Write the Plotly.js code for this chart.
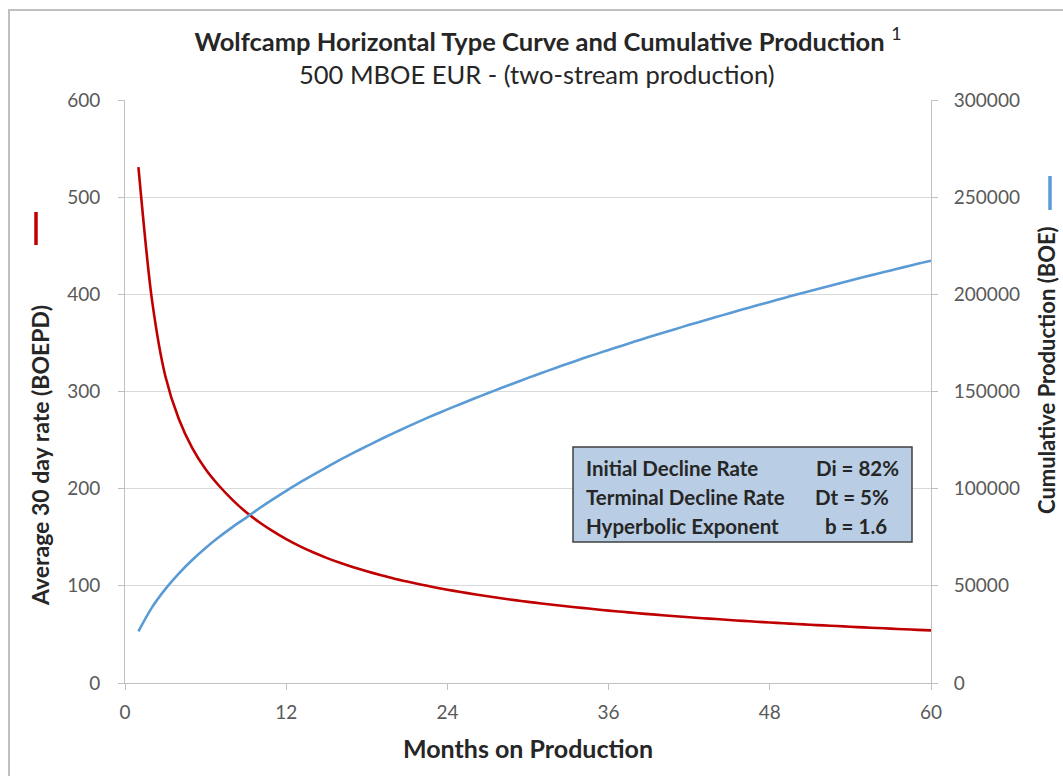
<!DOCTYPE html>
<html>
<head>
<meta charset="utf-8">
<script src="https://cdn.plot.ly/plotly-3.0.1.min.js"></script>
<style>html,body{margin:0;padding:0;background:#fff;}#chart{width:1063px;height:776px;}</style>
</head>
<body>
<div id="chart"></div>
<script>
// Months on production
const months = [1,2,3,4,5,6,7,8,9,10,11,12,13,14,15,16,17,18,19,20,21,22,23,24,25,26,27,28,29,30,
  31,32,33,34,35,36,37,38,39,40,41,42,43,44,45,46,47,48,49,50,51,52,53,54,55,56,57,58,59,60];
// Average 30 day rate (BOEPD)
const rateBOEPD = [531,395,316,272,242,220,203,188.5,176,165.5,156.3,148.1,140.9,134.5,128.8,123.7,119.1,115.0,111.2,107.6,
  104.4,101.4,98.6,96.0,93.6,91.4,89.2,87.2,85.3,83.5,81.9,80.2,78.7,77.3,75.9,74.5,73.3,72.0,70.9,69.8,
  68.7,67.7,66.7,65.8,64.8,63.9,63.1,62.3,61.5,60.7,59.9,59.3,58.6,57.9,57.2,56.6,56.0,55.3,54.7,54.2];
// Cumulative production (BOE)
const cumBOE = [26600,38800,48300,56300,63300,69500,75100,80200,85000,89900,94500,98900,103100,107100,111000,
  114800,118400,121900,125300,128600,131800,134900,137900,140800,143600,146400,149100,151800,154400,157000,
  159500,162000,164400,166800,169100,171400,173600,175800,178000,180100,182200,184300,186300,188300,190300,
  192300,194200,196100,198000,199900,201700,203500,205300,207100,208900,210600,212300,214000,215700,217300];
// Tick labels
const xTicks = [0,12,24,36,48,60];
const leftTicks = [0,100,200,300,400,500,600];
const rightTicks = [0,50000,100000,150000,200000,250000,300000];
// Parameter box texts
const paramNames = ["Initial Decline Rate","Terminal Decline Rate","Hyperbolic Exponent"];
const paramValues = ["Di = 82%","Dt = 5%","b = 1.6"];

const FONT = "Lato, 'Open Sans', sans-serif";
const W = 1063, H = 776;
const L = 125, R = 931, T = 100, B = 683;
const px = x => (x - L) / (R - L);
const py = y => (B - y) / (B - T);

const traces = [
  {x: months, y: rateBOEPD, type: 'scatter', mode: 'lines', name: 'Average 30 day rate (BOEPD)',
   line: {color: '#c00000', width: 2.6, shape: 'spline', smoothing: 0.8}, yaxis: 'y'},
  {x: months, y: cumBOE, type: 'scatter', mode: 'lines', name: 'Cumulative Production (BOE)',
   line: {color: '#5b9bd5', width: 2.6, shape: 'spline', smoothing: 0.8}, yaxis: 'y2'}
];

const paramRows = [468, 497, 526];
const valueX = [814, 813, 823];
const annotations = [
  {xref: 'paper', yref: 'paper', x: px(536), y: py(74),
   text: '500 MBOE EUR - (two-stream production)', showarrow: false,
   font: {family: FONT, size: 25.5, color: '#262626'}, xanchor: 'center', yanchor: 'middle'},
  {xref: 'paper', yref: 'paper', x: px(528), y: py(748),
   text: '<b>Months on Production</b>', showarrow: false,
   font: {family: FONT, size: 25, color: '#262626'}, xanchor: 'center', yanchor: 'middle'},
  {xref: 'paper', yref: 'paper', x: px(40), y: py(456), textangle: -90,
   text: '<b>Average 30 day rate (BOEPD)</b>', showarrow: false,
   font: {family: FONT, size: 23, color: '#262626'}, xanchor: 'center', yanchor: 'middle'},
  {xref: 'paper', yref: 'paper', x: px(1046), y: py(370), textangle: -90,
   text: '<b>Cumulative Production (BOE)</b>', showarrow: false,
   font: {family: FONT, size: 22, color: '#262626'}, xanchor: 'center', yanchor: 'middle'}
];
paramNames.forEach((t, i) => {
  annotations.push({xref: 'paper', yref: 'paper', x: px(584), y: py(paramRows[i]), text: '<b>' + t + '</b>',
    showarrow: false, xanchor: 'left', yanchor: 'middle', font: {family: FONT, size: 20.5, color: '#262626'}});
  annotations.push({xref: 'paper', yref: 'paper', x: px(valueX[i]), y: py(paramRows[i]), text: '<b>' + paramValues[i] + '</b>',
    showarrow: false, xanchor: 'left', yanchor: 'middle', font: {family: FONT, size: 20.5, color: '#262626'}});
});

const shapes = [
  // outer chart frame
  {type: 'rect', xref: 'paper', yref: 'paper', x0: px(9), x1: px(1075), y0: py(790), y1: py(10),
   line: {color: '#bfbfbf', width: 2}, fillcolor: 'rgba(0,0,0,0)', layer: 'below'},
  // parameter box
  {type: 'rect', xref: 'paper', yref: 'paper', x0: px(573), x1: px(912), y0: py(542), y1: py(447),
   line: {color: '#404040', width: 1.5}, fillcolor: '#b9cde5', layer: 'above'},
  // legend keys next to axis titles
  {type: 'line', xref: 'paper', yref: 'paper', x0: px(36), x1: px(36), y0: py(212), y1: py(245),
   line: {color: '#c00000', width: 3.5}},
  {type: 'line', xref: 'paper', yref: 'paper', x0: px(1050), x1: px(1050), y0: py(176), y1: py(210),
   line: {color: '#5b9bd5', width: 3.5}}
];

const axisCommon = {
  showline: true, linecolor: '#bfbfbf', linewidth: 1,
  ticks: 'outside', ticklen: 6, tickcolor: '#bfbfbf', tickwidth: 1,
  tickfont: {family: FONT, size: 19, color: '#595959'}, zeroline: false
};

const layout = {
  width: W, height: H,
  margin: {l: L, r: W - R, t: T, b: H - B, pad: 0},
  paper_bgcolor: '#ffffff', plot_bgcolor: '#ffffff',
  showlegend: false,
  title: {text: '<b>Wolfcamp Horizontal Type Curve and Cumulative Production</b> <sup>1</sup>',
    font: {family: FONT, size: 25.5, color: '#262626'},
    x: 548 / W, xanchor: 'center', xref: 'container', y: 1 - 42 / H, yanchor: 'middle', yref: 'container'},
  xaxis: Object.assign({}, axisCommon, {range: [0, 60], tickvals: xTicks, ticktext: xTicks.map(String),
    showgrid: false, mirror: false, ticklabelstandoff: 6}),
  yaxis: Object.assign({}, axisCommon, {range: [0, 600], tickvals: leftTicks, ticktext: leftTicks.map(String),
    showgrid: true, gridcolor: '#d9d9d9', gridwidth: 1, ticklabelstandoff: 14}),
  yaxis2: Object.assign({}, axisCommon, {range: [0, 300000], tickvals: rightTicks, ticktext: rightTicks.map(String),
    overlaying: 'y', side: 'right', showgrid: false, ticklabelstandoff: 12}),
  annotations: annotations,
  shapes: shapes
};

Plotly.newPlot('chart', traces, layout, {displayModeBar: false, staticPlot: true});
</script>
</body>
</html>
